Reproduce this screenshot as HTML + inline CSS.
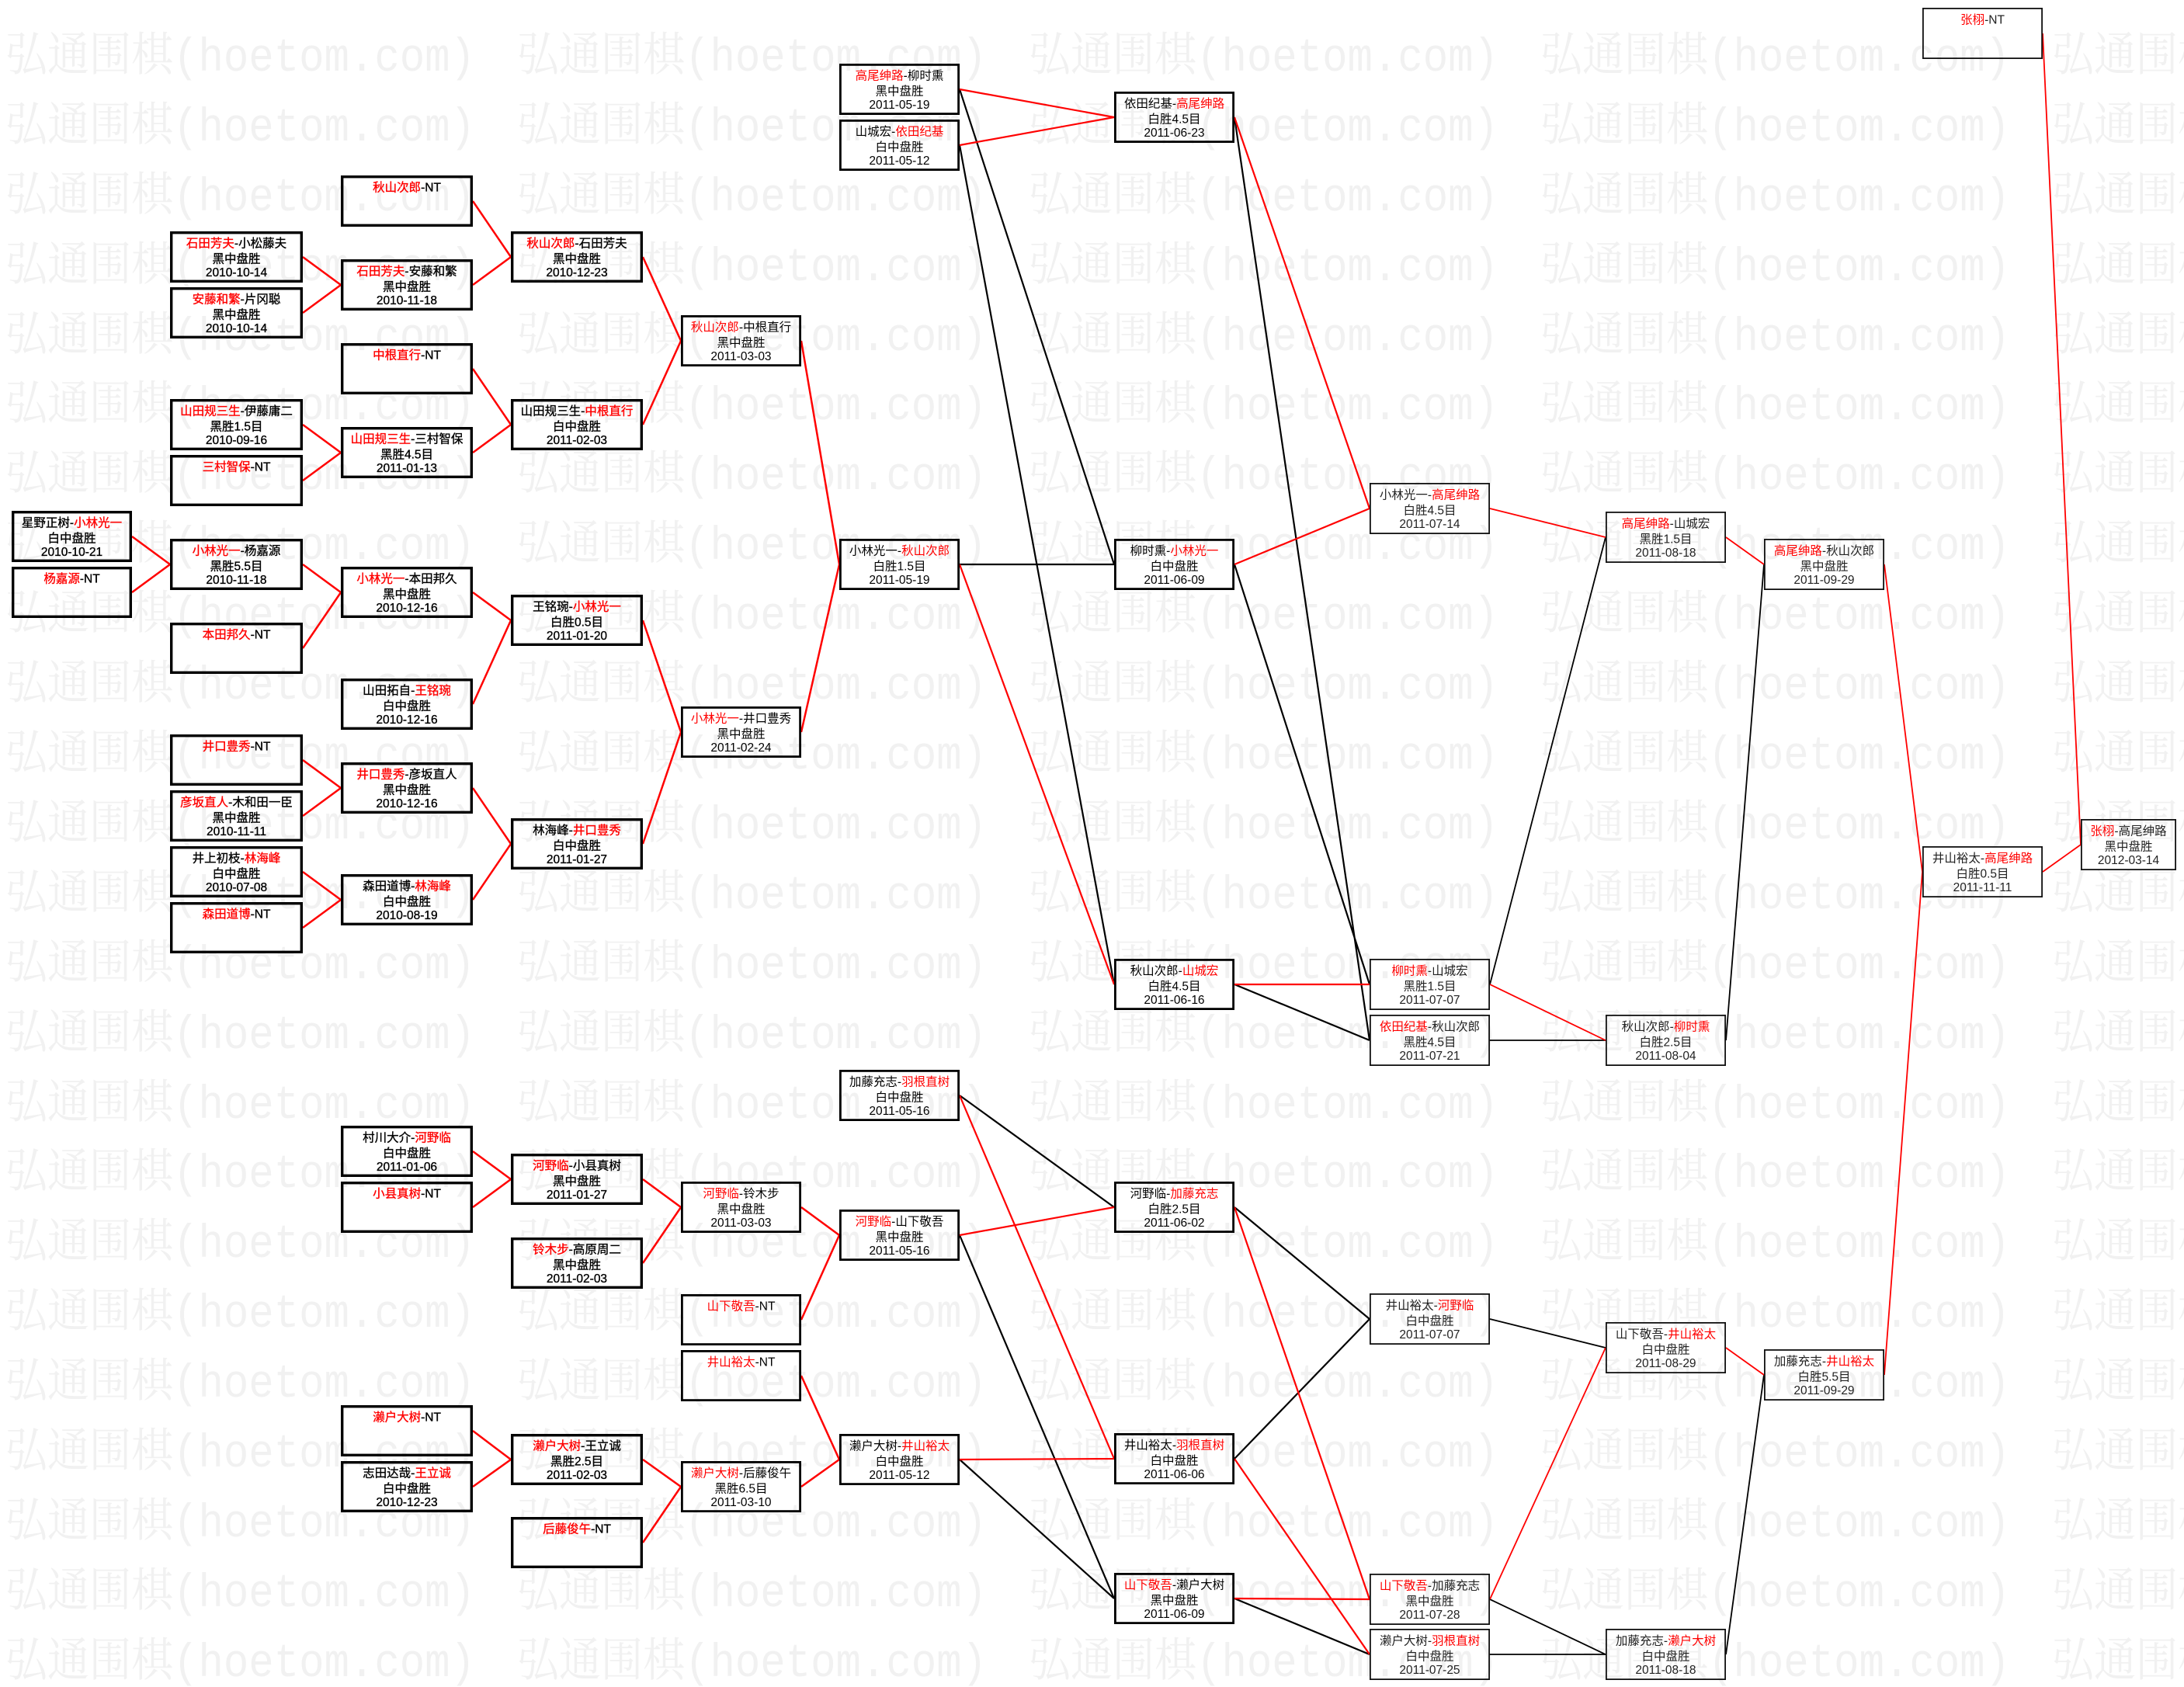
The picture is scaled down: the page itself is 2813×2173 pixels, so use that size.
<!DOCTYPE html>
<html><head><meta charset="utf-8"><style>
html,body{margin:0;padding:0;background:#fff;}
body{width:2813px;height:2173px;overflow:hidden;}
svg{display:block;}
.wm{font-family:"Liberation Mono","Noto Serif CJK SC",monospace;font-size:60px;fill:#f1f1f1;}
.t{font-family:"Liberation Sans","Noto Sans CJK SC",sans-serif;font-size:15.5px;text-anchor:middle;fill:#000;}
.t1{stroke:#000;stroke-width:0.35;}
.t3{fill:#222;}
.r{fill:#f00;stroke:#f00;}
.t .r{stroke:none;}
.t1 .r{stroke:#f00;stroke-width:0.35;}
.k1{fill:none;stroke:#000;stroke-width:3.4;}
.k2{fill:none;stroke:#000;stroke-width:2.8;}
.k3{fill:none;stroke:#111;stroke-width:1.8;}
.lr{stroke:#f00;stroke-width:2.5;fill:none;}
.lr2{stroke:#f00;stroke-width:2.2;fill:none;}
.lb2{stroke:#000;stroke-width:2.2;fill:none;}
.lr3{stroke:#f00;stroke-width:1.8;fill:none;}
.lb3{stroke:#000;stroke-width:1.8;fill:none;}
</style></head><body>
<svg width="2813" height="2173" viewBox="0 0 2813 2173" xmlns="http://www.w3.org/2000/svg">
<g class="wm">
<text x="7" y="91" textLength="605" lengthAdjust="spacingAndGlyphs">弘通围棋(hoetom.com)</text><text x="666" y="91" textLength="605" lengthAdjust="spacingAndGlyphs">弘通围棋(hoetom.com)</text><text x="1325" y="91" textLength="605" lengthAdjust="spacingAndGlyphs">弘通围棋(hoetom.com)</text><text x="1984" y="91" textLength="605" lengthAdjust="spacingAndGlyphs">弘通围棋(hoetom.com)</text><text x="2643" y="91" textLength="605" lengthAdjust="spacingAndGlyphs">弘通围棋(hoetom.com)</text>
<text x="7" y="181" textLength="605" lengthAdjust="spacingAndGlyphs">弘通围棋(hoetom.com)</text><text x="666" y="181" textLength="605" lengthAdjust="spacingAndGlyphs">弘通围棋(hoetom.com)</text><text x="1325" y="181" textLength="605" lengthAdjust="spacingAndGlyphs">弘通围棋(hoetom.com)</text><text x="1984" y="181" textLength="605" lengthAdjust="spacingAndGlyphs">弘通围棋(hoetom.com)</text><text x="2643" y="181" textLength="605" lengthAdjust="spacingAndGlyphs">弘通围棋(hoetom.com)</text>
<text x="7" y="271" textLength="605" lengthAdjust="spacingAndGlyphs">弘通围棋(hoetom.com)</text><text x="666" y="271" textLength="605" lengthAdjust="spacingAndGlyphs">弘通围棋(hoetom.com)</text><text x="1325" y="271" textLength="605" lengthAdjust="spacingAndGlyphs">弘通围棋(hoetom.com)</text><text x="1984" y="271" textLength="605" lengthAdjust="spacingAndGlyphs">弘通围棋(hoetom.com)</text><text x="2643" y="271" textLength="605" lengthAdjust="spacingAndGlyphs">弘通围棋(hoetom.com)</text>
<text x="7" y="361" textLength="605" lengthAdjust="spacingAndGlyphs">弘通围棋(hoetom.com)</text><text x="666" y="361" textLength="605" lengthAdjust="spacingAndGlyphs">弘通围棋(hoetom.com)</text><text x="1325" y="361" textLength="605" lengthAdjust="spacingAndGlyphs">弘通围棋(hoetom.com)</text><text x="1984" y="361" textLength="605" lengthAdjust="spacingAndGlyphs">弘通围棋(hoetom.com)</text><text x="2643" y="361" textLength="605" lengthAdjust="spacingAndGlyphs">弘通围棋(hoetom.com)</text>
<text x="7" y="451" textLength="605" lengthAdjust="spacingAndGlyphs">弘通围棋(hoetom.com)</text><text x="666" y="451" textLength="605" lengthAdjust="spacingAndGlyphs">弘通围棋(hoetom.com)</text><text x="1325" y="451" textLength="605" lengthAdjust="spacingAndGlyphs">弘通围棋(hoetom.com)</text><text x="1984" y="451" textLength="605" lengthAdjust="spacingAndGlyphs">弘通围棋(hoetom.com)</text><text x="2643" y="451" textLength="605" lengthAdjust="spacingAndGlyphs">弘通围棋(hoetom.com)</text>
<text x="7" y="540" textLength="605" lengthAdjust="spacingAndGlyphs">弘通围棋(hoetom.com)</text><text x="666" y="540" textLength="605" lengthAdjust="spacingAndGlyphs">弘通围棋(hoetom.com)</text><text x="1325" y="540" textLength="605" lengthAdjust="spacingAndGlyphs">弘通围棋(hoetom.com)</text><text x="1984" y="540" textLength="605" lengthAdjust="spacingAndGlyphs">弘通围棋(hoetom.com)</text><text x="2643" y="540" textLength="605" lengthAdjust="spacingAndGlyphs">弘通围棋(hoetom.com)</text>
<text x="7" y="630" textLength="605" lengthAdjust="spacingAndGlyphs">弘通围棋(hoetom.com)</text><text x="666" y="630" textLength="605" lengthAdjust="spacingAndGlyphs">弘通围棋(hoetom.com)</text><text x="1325" y="630" textLength="605" lengthAdjust="spacingAndGlyphs">弘通围棋(hoetom.com)</text><text x="1984" y="630" textLength="605" lengthAdjust="spacingAndGlyphs">弘通围棋(hoetom.com)</text><text x="2643" y="630" textLength="605" lengthAdjust="spacingAndGlyphs">弘通围棋(hoetom.com)</text>
<text x="7" y="720" textLength="605" lengthAdjust="spacingAndGlyphs">弘通围棋(hoetom.com)</text><text x="666" y="720" textLength="605" lengthAdjust="spacingAndGlyphs">弘通围棋(hoetom.com)</text><text x="1325" y="720" textLength="605" lengthAdjust="spacingAndGlyphs">弘通围棋(hoetom.com)</text><text x="1984" y="720" textLength="605" lengthAdjust="spacingAndGlyphs">弘通围棋(hoetom.com)</text><text x="2643" y="720" textLength="605" lengthAdjust="spacingAndGlyphs">弘通围棋(hoetom.com)</text>
<text x="7" y="810" textLength="605" lengthAdjust="spacingAndGlyphs">弘通围棋(hoetom.com)</text><text x="666" y="810" textLength="605" lengthAdjust="spacingAndGlyphs">弘通围棋(hoetom.com)</text><text x="1325" y="810" textLength="605" lengthAdjust="spacingAndGlyphs">弘通围棋(hoetom.com)</text><text x="1984" y="810" textLength="605" lengthAdjust="spacingAndGlyphs">弘通围棋(hoetom.com)</text><text x="2643" y="810" textLength="605" lengthAdjust="spacingAndGlyphs">弘通围棋(hoetom.com)</text>
<text x="7" y="900" textLength="605" lengthAdjust="spacingAndGlyphs">弘通围棋(hoetom.com)</text><text x="666" y="900" textLength="605" lengthAdjust="spacingAndGlyphs">弘通围棋(hoetom.com)</text><text x="1325" y="900" textLength="605" lengthAdjust="spacingAndGlyphs">弘通围棋(hoetom.com)</text><text x="1984" y="900" textLength="605" lengthAdjust="spacingAndGlyphs">弘通围棋(hoetom.com)</text><text x="2643" y="900" textLength="605" lengthAdjust="spacingAndGlyphs">弘通围棋(hoetom.com)</text>
<text x="7" y="990" textLength="605" lengthAdjust="spacingAndGlyphs">弘通围棋(hoetom.com)</text><text x="666" y="990" textLength="605" lengthAdjust="spacingAndGlyphs">弘通围棋(hoetom.com)</text><text x="1325" y="990" textLength="605" lengthAdjust="spacingAndGlyphs">弘通围棋(hoetom.com)</text><text x="1984" y="990" textLength="605" lengthAdjust="spacingAndGlyphs">弘通围棋(hoetom.com)</text><text x="2643" y="990" textLength="605" lengthAdjust="spacingAndGlyphs">弘通围棋(hoetom.com)</text>
<text x="7" y="1080" textLength="605" lengthAdjust="spacingAndGlyphs">弘通围棋(hoetom.com)</text><text x="666" y="1080" textLength="605" lengthAdjust="spacingAndGlyphs">弘通围棋(hoetom.com)</text><text x="1325" y="1080" textLength="605" lengthAdjust="spacingAndGlyphs">弘通围棋(hoetom.com)</text><text x="1984" y="1080" textLength="605" lengthAdjust="spacingAndGlyphs">弘通围棋(hoetom.com)</text><text x="2643" y="1080" textLength="605" lengthAdjust="spacingAndGlyphs">弘通围棋(hoetom.com)</text>
<text x="7" y="1170" textLength="605" lengthAdjust="spacingAndGlyphs">弘通围棋(hoetom.com)</text><text x="666" y="1170" textLength="605" lengthAdjust="spacingAndGlyphs">弘通围棋(hoetom.com)</text><text x="1325" y="1170" textLength="605" lengthAdjust="spacingAndGlyphs">弘通围棋(hoetom.com)</text><text x="1984" y="1170" textLength="605" lengthAdjust="spacingAndGlyphs">弘通围棋(hoetom.com)</text><text x="2643" y="1170" textLength="605" lengthAdjust="spacingAndGlyphs">弘通围棋(hoetom.com)</text>
<text x="7" y="1260" textLength="605" lengthAdjust="spacingAndGlyphs">弘通围棋(hoetom.com)</text><text x="666" y="1260" textLength="605" lengthAdjust="spacingAndGlyphs">弘通围棋(hoetom.com)</text><text x="1325" y="1260" textLength="605" lengthAdjust="spacingAndGlyphs">弘通围棋(hoetom.com)</text><text x="1984" y="1260" textLength="605" lengthAdjust="spacingAndGlyphs">弘通围棋(hoetom.com)</text><text x="2643" y="1260" textLength="605" lengthAdjust="spacingAndGlyphs">弘通围棋(hoetom.com)</text>
<text x="7" y="1350" textLength="605" lengthAdjust="spacingAndGlyphs">弘通围棋(hoetom.com)</text><text x="666" y="1350" textLength="605" lengthAdjust="spacingAndGlyphs">弘通围棋(hoetom.com)</text><text x="1325" y="1350" textLength="605" lengthAdjust="spacingAndGlyphs">弘通围棋(hoetom.com)</text><text x="1984" y="1350" textLength="605" lengthAdjust="spacingAndGlyphs">弘通围棋(hoetom.com)</text><text x="2643" y="1350" textLength="605" lengthAdjust="spacingAndGlyphs">弘通围棋(hoetom.com)</text>
<text x="7" y="1440" textLength="605" lengthAdjust="spacingAndGlyphs">弘通围棋(hoetom.com)</text><text x="666" y="1440" textLength="605" lengthAdjust="spacingAndGlyphs">弘通围棋(hoetom.com)</text><text x="1325" y="1440" textLength="605" lengthAdjust="spacingAndGlyphs">弘通围棋(hoetom.com)</text><text x="1984" y="1440" textLength="605" lengthAdjust="spacingAndGlyphs">弘通围棋(hoetom.com)</text><text x="2643" y="1440" textLength="605" lengthAdjust="spacingAndGlyphs">弘通围棋(hoetom.com)</text>
<text x="7" y="1529" textLength="605" lengthAdjust="spacingAndGlyphs">弘通围棋(hoetom.com)</text><text x="666" y="1529" textLength="605" lengthAdjust="spacingAndGlyphs">弘通围棋(hoetom.com)</text><text x="1325" y="1529" textLength="605" lengthAdjust="spacingAndGlyphs">弘通围棋(hoetom.com)</text><text x="1984" y="1529" textLength="605" lengthAdjust="spacingAndGlyphs">弘通围棋(hoetom.com)</text><text x="2643" y="1529" textLength="605" lengthAdjust="spacingAndGlyphs">弘通围棋(hoetom.com)</text>
<text x="7" y="1619" textLength="605" lengthAdjust="spacingAndGlyphs">弘通围棋(hoetom.com)</text><text x="666" y="1619" textLength="605" lengthAdjust="spacingAndGlyphs">弘通围棋(hoetom.com)</text><text x="1325" y="1619" textLength="605" lengthAdjust="spacingAndGlyphs">弘通围棋(hoetom.com)</text><text x="1984" y="1619" textLength="605" lengthAdjust="spacingAndGlyphs">弘通围棋(hoetom.com)</text><text x="2643" y="1619" textLength="605" lengthAdjust="spacingAndGlyphs">弘通围棋(hoetom.com)</text>
<text x="7" y="1709" textLength="605" lengthAdjust="spacingAndGlyphs">弘通围棋(hoetom.com)</text><text x="666" y="1709" textLength="605" lengthAdjust="spacingAndGlyphs">弘通围棋(hoetom.com)</text><text x="1325" y="1709" textLength="605" lengthAdjust="spacingAndGlyphs">弘通围棋(hoetom.com)</text><text x="1984" y="1709" textLength="605" lengthAdjust="spacingAndGlyphs">弘通围棋(hoetom.com)</text><text x="2643" y="1709" textLength="605" lengthAdjust="spacingAndGlyphs">弘通围棋(hoetom.com)</text>
<text x="7" y="1799" textLength="605" lengthAdjust="spacingAndGlyphs">弘通围棋(hoetom.com)</text><text x="666" y="1799" textLength="605" lengthAdjust="spacingAndGlyphs">弘通围棋(hoetom.com)</text><text x="1325" y="1799" textLength="605" lengthAdjust="spacingAndGlyphs">弘通围棋(hoetom.com)</text><text x="1984" y="1799" textLength="605" lengthAdjust="spacingAndGlyphs">弘通围棋(hoetom.com)</text><text x="2643" y="1799" textLength="605" lengthAdjust="spacingAndGlyphs">弘通围棋(hoetom.com)</text>
<text x="7" y="1889" textLength="605" lengthAdjust="spacingAndGlyphs">弘通围棋(hoetom.com)</text><text x="666" y="1889" textLength="605" lengthAdjust="spacingAndGlyphs">弘通围棋(hoetom.com)</text><text x="1325" y="1889" textLength="605" lengthAdjust="spacingAndGlyphs">弘通围棋(hoetom.com)</text><text x="1984" y="1889" textLength="605" lengthAdjust="spacingAndGlyphs">弘通围棋(hoetom.com)</text><text x="2643" y="1889" textLength="605" lengthAdjust="spacingAndGlyphs">弘通围棋(hoetom.com)</text>
<text x="7" y="1979" textLength="605" lengthAdjust="spacingAndGlyphs">弘通围棋(hoetom.com)</text><text x="666" y="1979" textLength="605" lengthAdjust="spacingAndGlyphs">弘通围棋(hoetom.com)</text><text x="1325" y="1979" textLength="605" lengthAdjust="spacingAndGlyphs">弘通围棋(hoetom.com)</text><text x="1984" y="1979" textLength="605" lengthAdjust="spacingAndGlyphs">弘通围棋(hoetom.com)</text><text x="2643" y="1979" textLength="605" lengthAdjust="spacingAndGlyphs">弘通围棋(hoetom.com)</text>
<text x="7" y="2069" textLength="605" lengthAdjust="spacingAndGlyphs">弘通围棋(hoetom.com)</text><text x="666" y="2069" textLength="605" lengthAdjust="spacingAndGlyphs">弘通围棋(hoetom.com)</text><text x="1325" y="2069" textLength="605" lengthAdjust="spacingAndGlyphs">弘通围棋(hoetom.com)</text><text x="1984" y="2069" textLength="605" lengthAdjust="spacingAndGlyphs">弘通围棋(hoetom.com)</text><text x="2643" y="2069" textLength="605" lengthAdjust="spacingAndGlyphs">弘通围棋(hoetom.com)</text>
<text x="7" y="2159" textLength="605" lengthAdjust="spacingAndGlyphs">弘通围棋(hoetom.com)</text><text x="666" y="2159" textLength="605" lengthAdjust="spacingAndGlyphs">弘通围棋(hoetom.com)</text><text x="1325" y="2159" textLength="605" lengthAdjust="spacingAndGlyphs">弘通围棋(hoetom.com)</text><text x="1984" y="2159" textLength="605" lengthAdjust="spacingAndGlyphs">弘通围棋(hoetom.com)</text><text x="2643" y="2159" textLength="605" lengthAdjust="spacingAndGlyphs">弘通围棋(hoetom.com)</text>
</g>

<!-- left tree red connectors -->
<g class="lr">
<path d="M170 691L219 727M170 763L219 727"/>
<path d="M390 331L439 367M390 403L439 367M390 547L439 583M390 619L439 583M390 727L439 763M390 835L439 763M390 979L439 1015M390 1051L439 1015M390 1123L439 1159M390 1195L439 1159"/>
<path d="M609 259L658 331M609 367L658 331M609 475L658 547M609 583L658 547M609 763L658 799M609 907L658 799M609 1015L658 1087M609 1159L658 1087M609 1483L658 1519M609 1555L658 1519M609 1843L658 1880M609 1915L658 1880"/>
<path d="M828 331L877 439M828 547L877 439M828 799L877 943M828 1087L877 943M828 1519L877 1555M828 1627L877 1555M828 1880L877 1915M828 1987L877 1915"/>
<path d="M1032 439L1081 727M1032 943L1081 727M1032 1555L1081 1591M1032 1700L1081 1591M1032 1772L1081 1880M1032 1915L1081 1880"/>
</g>

<!-- C6 -> C7 -->
<path class="lb2" d="M1236 115L1435 727M1236 187L1435 1268M1236 727L1435 727M1236 1411L1435 1555M1236 1591L1435 2059M1236 1880L1435 2059"/>
<path class="lr2" d="M1236 115L1435 151M1236 187L1435 151M1236 727L1435 1268M1236 1411L1435 1879M1236 1591L1435 1555M1236 1880L1435 1879"/>

<!-- C7 -> C8 -->
<path class="lb2" d="M1590 151L1764 1340M1590 727L1764 1268M1590 1268L1764 1340M1590 1555L1764 1699M1590 1879L1764 1699M1590 2059L1764 2131"/>
<path class="lr2" d="M1590 151L1764 655M1590 727L1764 655M1590 1268L1764 1268M1590 1555L1764 2060M1590 1879L1764 2131M1590 2059L1764 2060"/>

<!-- C8 -> C9 -> C10 -> C11 -> C12 -->
<path class="lb3" d="M1919 1268L2068 692M1919 1340L2068 1340M1919 1699L2068 1736M1919 2060L2068 2131M1919 2131L2068 2131M2223 1340L2272 727M2223 2131L2272 1771"/>
<path class="lr3" d="M1919 655L2068 692M1919 1268L2068 1340M1919 2060L2068 1736M2223 692L2272 727M2223 1736L2272 1771M2427 727L2476 1123M2427 1771L2476 1123M2631 43L2680 1088M2631 1123L2680 1088"/>

<!-- boxes C1-C4 -->
<g class="k1">
<rect x="16.7" y="659.7" width="151.6" height="62.6"/><rect x="16.7" y="731.7" width="151.6" height="62.6"/>
<rect x="220.7" y="299.7" width="167.6" height="62.6"/><rect x="220.7" y="371.7" width="167.6" height="62.6"/><rect x="220.7" y="515.7" width="167.6" height="62.6"/><rect x="220.7" y="587.7" width="167.6" height="62.6"/><rect x="220.7" y="695.7" width="167.6" height="62.6"/><rect x="220.7" y="803.7" width="167.6" height="62.6"/><rect x="220.7" y="947.7" width="167.6" height="62.6"/><rect x="220.7" y="1019.7" width="167.6" height="62.6"/><rect x="220.7" y="1091.7" width="167.6" height="62.6"/><rect x="220.7" y="1163.7" width="167.6" height="62.6"/>
<rect x="440.7" y="227.7" width="166.6" height="62.6"/><rect x="440.7" y="335.7" width="166.6" height="62.6"/><rect x="440.7" y="443.7" width="166.6" height="62.6"/><rect x="440.7" y="551.7" width="166.6" height="62.6"/><rect x="440.7" y="731.7" width="166.6" height="62.6"/><rect x="440.7" y="875.7" width="166.6" height="62.6"/><rect x="440.7" y="983.7" width="166.6" height="62.6"/><rect x="440.7" y="1127.7" width="166.6" height="62.6"/><rect x="440.7" y="1451.7" width="166.6" height="62.6"/><rect x="440.7" y="1523.7" width="166.6" height="62.6"/><rect x="440.7" y="1811.7" width="166.6" height="62.6"/><rect x="440.7" y="1883.7" width="166.6" height="62.6"/>
<rect x="659.7" y="299.7" width="166.6" height="62.6"/><rect x="659.7" y="515.7" width="166.6" height="62.6"/><rect x="659.7" y="767.7" width="166.6" height="62.6"/><rect x="659.7" y="1055.7" width="166.6" height="62.6"/><rect x="659.7" y="1487.7" width="166.6" height="62.6"/><rect x="659.7" y="1595.7" width="166.6" height="62.6"/><rect x="659.7" y="1848.7" width="166.6" height="62.6"/><rect x="659.7" y="1955.7" width="166.6" height="62.6"/>
</g>
<!-- boxes C5-C7 -->
<g class="k2">
<rect x="878.4" y="407.4" width="152.2" height="63.2"/><rect x="878.4" y="911.4" width="152.2" height="63.2"/><rect x="878.4" y="1523.4" width="152.2" height="63.2"/><rect x="878.4" y="1668.4" width="152.2" height="63.2"/><rect x="878.4" y="1740.4" width="152.2" height="63.2"/><rect x="878.4" y="1883.4" width="152.2" height="63.2"/>
<rect x="1082.4" y="83.4" width="152.2" height="63.2"/><rect x="1082.4" y="155.4" width="152.2" height="63.2"/><rect x="1082.4" y="695.4" width="152.2" height="63.2"/><rect x="1082.4" y="1379.4" width="152.2" height="63.2"/><rect x="1082.4" y="1559.4" width="152.2" height="63.2"/><rect x="1082.4" y="1848.4" width="152.2" height="63.2"/>
<rect x="1436.4" y="119.4" width="152.2" height="63.2"/><rect x="1436.4" y="695.4" width="152.2" height="63.2"/><rect x="1436.4" y="1236.4" width="152.2" height="63.2"/><rect x="1436.4" y="1523.4" width="152.2" height="63.2"/><rect x="1436.4" y="1847.4" width="152.2" height="63.2"/><rect x="1436.4" y="2027.4" width="152.2" height="63.2"/>
</g>
<!-- boxes C8-C12 -->
<g class="k3">
<rect x="1764.9" y="622.9" width="153.2" height="64.2"/><rect x="1764.9" y="1235.9" width="153.2" height="64.2"/><rect x="1764.9" y="1307.9" width="153.2" height="64.2"/><rect x="1764.9" y="1666.9" width="153.2" height="64.2"/><rect x="1764.9" y="2027.9" width="153.2" height="64.2"/><rect x="1764.9" y="2098.9" width="153.2" height="64.2"/>
<rect x="2068.9" y="659.9" width="153.2" height="64.2"/><rect x="2068.9" y="1307.9" width="153.2" height="64.2"/><rect x="2068.9" y="1703.9" width="153.2" height="64.2"/><rect x="2068.9" y="2098.9" width="153.2" height="64.2"/>
<rect x="2272.9" y="694.9" width="153.2" height="64.2"/><rect x="2272.9" y="1738.9" width="153.2" height="64.2"/>
<rect x="2476.9" y="10.9" width="153.2" height="64.2"/><rect x="2476.9" y="1090.9" width="153.2" height="64.2"/>
<rect x="2680.9" y="1055.9" width="121.2" height="64.2"/>
</g>

<!-- texts C1-C4 -->
<g class="t t1">
<text x="92.5" y="678.5">星野正树-<tspan class="r">小林光一</tspan></text><text x="92.5" y="698.5">白中盘胜</text><text x="92.5" y="716">2010-10-21</text>
<text x="92.5" y="750.5"><tspan class="r">杨嘉源</tspan>-NT</text>

<text x="304.5" y="318.5"><tspan class="r">石田芳夫</tspan>-小松藤夫</text><text x="304.5" y="338.5">黑中盘胜</text><text x="304.5" y="356">2010-10-14</text>
<text x="304.5" y="390.5"><tspan class="r">安藤和繁</tspan>-片冈聪</text><text x="304.5" y="410.5">黑中盘胜</text><text x="304.5" y="428">2010-10-14</text>
<text x="304.5" y="534.5"><tspan class="r">山田规三生</tspan>-伊藤庸二</text><text x="304.5" y="554.5">黑胜1.5目</text><text x="304.5" y="572">2010-09-16</text>
<text x="304.5" y="606.5"><tspan class="r">三村智保</tspan>-NT</text>
<text x="304.5" y="714.5"><tspan class="r">小林光一</tspan>-杨嘉源</text><text x="304.5" y="734.5">黑胜5.5目</text><text x="304.5" y="752">2010-11-18</text>
<text x="304.5" y="822.5"><tspan class="r">本田邦久</tspan>-NT</text>
<text x="304.5" y="966.5"><tspan class="r">井口豊秀</tspan>-NT</text>
<text x="304.5" y="1038.5"><tspan class="r">彦坂直人</tspan>-木和田一臣</text><text x="304.5" y="1058.5">黑中盘胜</text><text x="304.5" y="1076">2010-11-11</text>
<text x="304.5" y="1110.5">井上初枝-<tspan class="r">林海峰</tspan></text><text x="304.5" y="1130.5">白中盘胜</text><text x="304.5" y="1148">2010-07-08</text>
<text x="304.5" y="1182.5"><tspan class="r">森田道博</tspan>-NT</text>

<text x="524" y="246.5"><tspan class="r">秋山次郎</tspan>-NT</text>
<text x="524" y="354.5"><tspan class="r">石田芳夫</tspan>-安藤和繁</text><text x="524" y="374.5">黑中盘胜</text><text x="524" y="392">2010-11-18</text>
<text x="524" y="462.5"><tspan class="r">中根直行</tspan>-NT</text>
<text x="524" y="570.5"><tspan class="r">山田规三生</tspan>-三村智保</text><text x="524" y="590.5">黑胜4.5目</text><text x="524" y="608">2011-01-13</text>
<text x="524" y="750.5"><tspan class="r">小林光一</tspan>-本田邦久</text><text x="524" y="770.5">黑中盘胜</text><text x="524" y="788">2010-12-16</text>
<text x="524" y="894.5">山田拓自-<tspan class="r">王铭琬</tspan></text><text x="524" y="914.5">白中盘胜</text><text x="524" y="932">2010-12-16</text>
<text x="524" y="1002.5"><tspan class="r">井口豊秀</tspan>-彦坂直人</text><text x="524" y="1022.5">黑中盘胜</text><text x="524" y="1040">2010-12-16</text>
<text x="524" y="1146.5">森田道博-<tspan class="r">林海峰</tspan></text><text x="524" y="1166.5">白中盘胜</text><text x="524" y="1184">2010-08-19</text>
<text x="524" y="1470.5">村川大介-<tspan class="r">河野临</tspan></text><text x="524" y="1490.5">白中盘胜</text><text x="524" y="1508">2011-01-06</text>
<text x="524" y="1542.5"><tspan class="r">小县真树</tspan>-NT</text>
<text x="524" y="1830.5"><tspan class="r">濑户大树</tspan>-NT</text>
<text x="524" y="1902.5">志田达哉-<tspan class="r">王立诚</tspan></text><text x="524" y="1922.5">白中盘胜</text><text x="524" y="1940">2010-12-23</text>

<text x="743" y="318.5"><tspan class="r">秋山次郎</tspan>-石田芳夫</text><text x="743" y="338.5">黑中盘胜</text><text x="743" y="356">2010-12-23</text>
<text x="743" y="534.5">山田规三生-<tspan class="r">中根直行</tspan></text><text x="743" y="554.5">白中盘胜</text><text x="743" y="572">2011-02-03</text>
<text x="743" y="786.5">王铭琬-<tspan class="r">小林光一</tspan></text><text x="743" y="806.5">白胜0.5目</text><text x="743" y="824">2011-01-20</text>
<text x="743" y="1074.5">林海峰-<tspan class="r">井口豊秀</tspan></text><text x="743" y="1094.5">白中盘胜</text><text x="743" y="1112">2011-01-27</text>
<text x="743" y="1506.5"><tspan class="r">河野临</tspan>-小县真树</text><text x="743" y="1526.5">黑中盘胜</text><text x="743" y="1544">2011-01-27</text>
<text x="743" y="1614.5"><tspan class="r">铃木步</tspan>-高原周二</text><text x="743" y="1634.5">黑中盘胜</text><text x="743" y="1652">2011-02-03</text>
<text x="743" y="1867.5"><tspan class="r">濑户大树</tspan>-王立诚</text><text x="743" y="1887.5">黑胜2.5目</text><text x="743" y="1905">2011-02-03</text>
<text x="743" y="1974.5"><tspan class="r">后藤俊午</tspan>-NT</text>
</g>

<!-- texts C5-C7 -->
<g class="t">
<text x="954.5" y="426.5"><tspan class="r">秋山次郎</tspan>-中根直行</text><text x="954.5" y="446.5">黑中盘胜</text><text x="954.5" y="464">2011-03-03</text>
<text x="954.5" y="930.5"><tspan class="r">小林光一</tspan>-井口豊秀</text><text x="954.5" y="950.5">黑中盘胜</text><text x="954.5" y="968">2011-02-24</text>
<text x="954.5" y="1542.5"><tspan class="r">河野临</tspan>-铃木步</text><text x="954.5" y="1562.5">黑中盘胜</text><text x="954.5" y="1580">2011-03-03</text>
<text x="954.5" y="1687.5"><tspan class="r">山下敬吾</tspan>-NT</text>
<text x="954.5" y="1759.5"><tspan class="r">井山裕太</tspan>-NT</text>
<text x="954.5" y="1902.5"><tspan class="r">濑户大树</tspan>-后藤俊午</text><text x="954.5" y="1922.5">黑胜6.5目</text><text x="954.5" y="1940">2011-03-10</text>

<text x="1158.5" y="102.5"><tspan class="r">高尾绅路</tspan>-柳时熏</text><text x="1158.5" y="122.5">黑中盘胜</text><text x="1158.5" y="140">2011-05-19</text>
<text x="1158.5" y="174.5">山城宏-<tspan class="r">依田纪基</tspan></text><text x="1158.5" y="194.5">白中盘胜</text><text x="1158.5" y="212">2011-05-12</text>
<text x="1158.5" y="714.5">小林光一-<tspan class="r">秋山次郎</tspan></text><text x="1158.5" y="734.5">白胜1.5目</text><text x="1158.5" y="752">2011-05-19</text>
<text x="1158.5" y="1398.5">加藤充志-<tspan class="r">羽根直树</tspan></text><text x="1158.5" y="1418.5">白中盘胜</text><text x="1158.5" y="1436">2011-05-16</text>
<text x="1158.5" y="1578.5"><tspan class="r">河野临</tspan>-山下敬吾</text><text x="1158.5" y="1598.5">黑中盘胜</text><text x="1158.5" y="1616">2011-05-16</text>
<text x="1158.5" y="1867.5">濑户大树-<tspan class="r">井山裕太</tspan></text><text x="1158.5" y="1887.5">白中盘胜</text><text x="1158.5" y="1905">2011-05-12</text>

<text x="1512.5" y="138.5">依田纪基-<tspan class="r">高尾绅路</tspan></text><text x="1512.5" y="158.5">白胜4.5目</text><text x="1512.5" y="176">2011-06-23</text>
<text x="1512.5" y="714.5">柳时熏-<tspan class="r">小林光一</tspan></text><text x="1512.5" y="734.5">白中盘胜</text><text x="1512.5" y="752">2011-06-09</text>
<text x="1512.5" y="1255.5">秋山次郎-<tspan class="r">山城宏</tspan></text><text x="1512.5" y="1275.5">白胜4.5目</text><text x="1512.5" y="1293">2011-06-16</text>
<text x="1512.5" y="1542.5">河野临-<tspan class="r">加藤充志</tspan></text><text x="1512.5" y="1562.5">白胜2.5目</text><text x="1512.5" y="1580">2011-06-02</text>
<text x="1512.5" y="1866.5">井山裕太-<tspan class="r">羽根直树</tspan></text><text x="1512.5" y="1886.5">白中盘胜</text><text x="1512.5" y="1904">2011-06-06</text>
<text x="1512.5" y="2046.5"><tspan class="r">山下敬吾</tspan>-濑户大树</text><text x="1512.5" y="2066.5">黑中盘胜</text><text x="1512.5" y="2084">2011-06-09</text>
</g>

<!-- texts C8-C12 -->
<g class="t t3">
<text x="1841.5" y="642.5">小林光一-<tspan class="r">高尾绅路</tspan></text><text x="1841.5" y="662.5">白胜4.5目</text><text x="1841.5" y="680">2011-07-14</text>
<text x="1841.5" y="1255.5"><tspan class="r">柳时熏</tspan>-山城宏</text><text x="1841.5" y="1275.5">黑胜1.5目</text><text x="1841.5" y="1293">2011-07-07</text>
<text x="1841.5" y="1327.5"><tspan class="r">依田纪基</tspan>-秋山次郎</text><text x="1841.5" y="1347.5">黑胜4.5目</text><text x="1841.5" y="1365">2011-07-21</text>
<text x="1841.5" y="1686.5">井山裕太-<tspan class="r">河野临</tspan></text><text x="1841.5" y="1706.5">白中盘胜</text><text x="1841.5" y="1724">2011-07-07</text>
<text x="1841.5" y="2047.5"><tspan class="r">山下敬吾</tspan>-加藤充志</text><text x="1841.5" y="2067.5">黑中盘胜</text><text x="1841.5" y="2085">2011-07-28</text>
<text x="1841.5" y="2118.5">濑户大树-<tspan class="r">羽根直树</tspan></text><text x="1841.5" y="2138.5">白中盘胜</text><text x="1841.5" y="2156">2011-07-25</text>

<text x="2145.5" y="679.5"><tspan class="r">高尾绅路</tspan>-山城宏</text><text x="2145.5" y="699.5">黑胜1.5目</text><text x="2145.5" y="717">2011-08-18</text>
<text x="2145.5" y="1327.5">秋山次郎-<tspan class="r">柳时熏</tspan></text><text x="2145.5" y="1347.5">白胜2.5目</text><text x="2145.5" y="1365">2011-08-04</text>
<text x="2145.5" y="1723.5">山下敬吾-<tspan class="r">井山裕太</tspan></text><text x="2145.5" y="1743.5">白中盘胜</text><text x="2145.5" y="1761">2011-08-29</text>
<text x="2145.5" y="2118.5">加藤充志-<tspan class="r">濑户大树</tspan></text><text x="2145.5" y="2138.5">白中盘胜</text><text x="2145.5" y="2156">2011-08-18</text>

<text x="2349.5" y="714.5"><tspan class="r">高尾绅路</tspan>-秋山次郎</text><text x="2349.5" y="734.5">黑中盘胜</text><text x="2349.5" y="752">2011-09-29</text>
<text x="2349.5" y="1758.5">加藤充志-<tspan class="r">井山裕太</tspan></text><text x="2349.5" y="1778.5">白胜5.5目</text><text x="2349.5" y="1796">2011-09-29</text>

<text x="2553.5" y="30.5"><tspan class="r">张栩</tspan>-NT</text>
<text x="2553.5" y="1110.5">井山裕太-<tspan class="r">高尾绅路</tspan></text><text x="2553.5" y="1130.5">白胜0.5目</text><text x="2553.5" y="1148">2011-11-11</text>

<text x="2741.5" y="1075.5"><tspan class="r">张栩</tspan>-高尾绅路</text><text x="2741.5" y="1095.5">黑中盘胜</text><text x="2741.5" y="1113">2012-03-14</text>
</g>
</svg>
</body></html>
